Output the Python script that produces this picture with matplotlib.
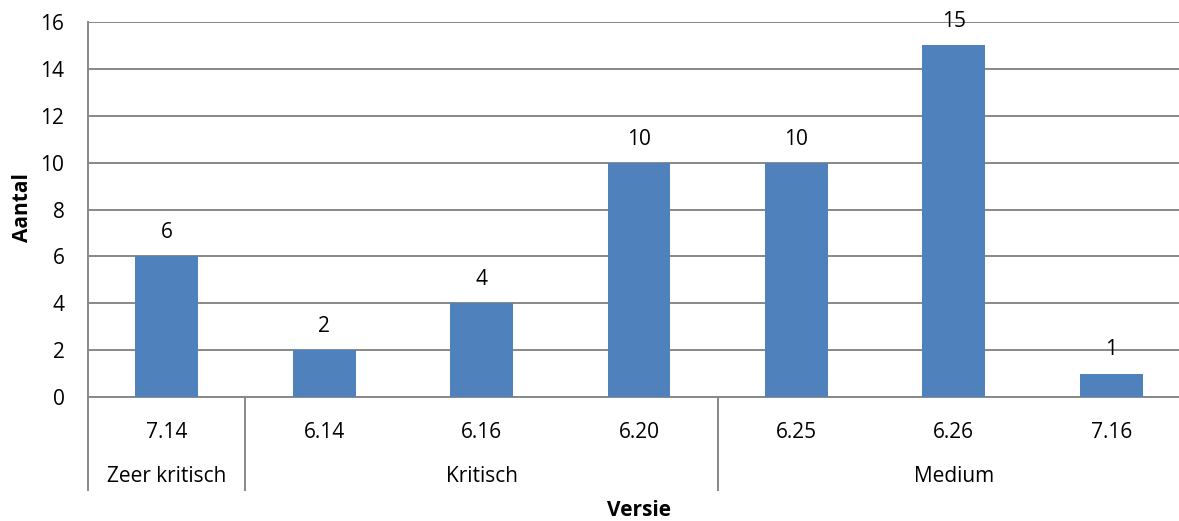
import matplotlib
matplotlib.use("Agg")
import matplotlib.pyplot as plt
from matplotlib.transforms import blended_transform_factory
from matplotlib.lines import Line2D

versions = ["7.14", "6.14", "6.16", "6.20", "6.25", "6.26", "7.16"]
counts = [6, 2, 4, 10, 10, 15, 1]
groups = ["Zeer kritisch", "Kritisch", "Medium"]
group_sizes = [1, 3, 3]

plt.rcParams["font.family"] = ["Open Sans", "DejaVu Sans"]
FS = 15

W, H = 1179, 521
fig = plt.figure(figsize=(W / 100, H / 100), dpi=100)
ax_left, ax_right = 88 / W, 1190 / W
ax_bottom, ax_top = (H - 397) / H, (H - 22) / H
ax = fig.add_axes([ax_left, ax_bottom, ax_right - ax_left, ax_top - ax_bottom])

bar_color = "#4F81BD"
grid_color = "#888888"

x = list(range(len(versions)))
bars = ax.bar(x, counts, width=0.4, color=bar_color, zorder=3)
for xi, v in zip(x, counts):
    ax.annotate(str(v), (xi, v), xytext=(0, 17), textcoords="offset points",
                ha="center", va="center", fontsize=FS, color="black", zorder=4)

ax.set_xlim(-0.5, len(versions) - 0.5)
ax.set_ylim(0, 16)
ax.set_yticks(range(0, 17, 2))
ax.yaxis.grid(True, color=grid_color, linewidth=1.4, zorder=0)
ax.set_axisbelow(True)
ax.tick_params(axis="y", length=0, pad=17, labelsize=FS)
ax.tick_params(axis="x", length=0, labelbottom=False)
for side in ["top", "right"]:
    ax.spines[side].set_visible(False)
ax.spines["left"].set_color(grid_color)
ax.spines["left"].set_linewidth(1.4)
ax.spines["bottom"].set_color(grid_color)
ax.spines["bottom"].set_linewidth(1.4)

# Multi-level category axis below the plot
px_to_axes = 1 / (397 - 22)
trans = blended_transform_factory(ax.transData, ax.transAxes)
y_ver = -(432 - 397) * px_to_axes
y_grp = -(476 - 397) * px_to_axes
y_sep = -(490 - 397) * px_to_axes

for xi, lab in zip(x, versions):
    ax.text(xi, y_ver, lab, transform=trans, ha="center", va="center",
            fontsize=FS, clip_on=False)

start = -0.5
edges = [start]
for name, n in zip(groups, group_sizes):
    end = start + n
    ax.text((start + end) / 2, y_grp, name, transform=trans, ha="center",
            va="center", fontsize=FS, clip_on=False)
    edges.append(end)
    start = end

for e in edges:
    ax.add_line(Line2D([e, e], [0, y_sep], transform=trans, color=grid_color,
                       linewidth=1.4, clip_on=False))

fig.text(639 / W, 1 - 510 / H, "Versie", ha="center", va="center",
         fontsize=FS, fontweight="bold")
fig.text(22 / W, 1 - 208 / H, "Aantal", ha="center", va="center",
         fontsize=FS, fontweight="bold", rotation=90)

fig.savefig("out.png", dpi=100)
